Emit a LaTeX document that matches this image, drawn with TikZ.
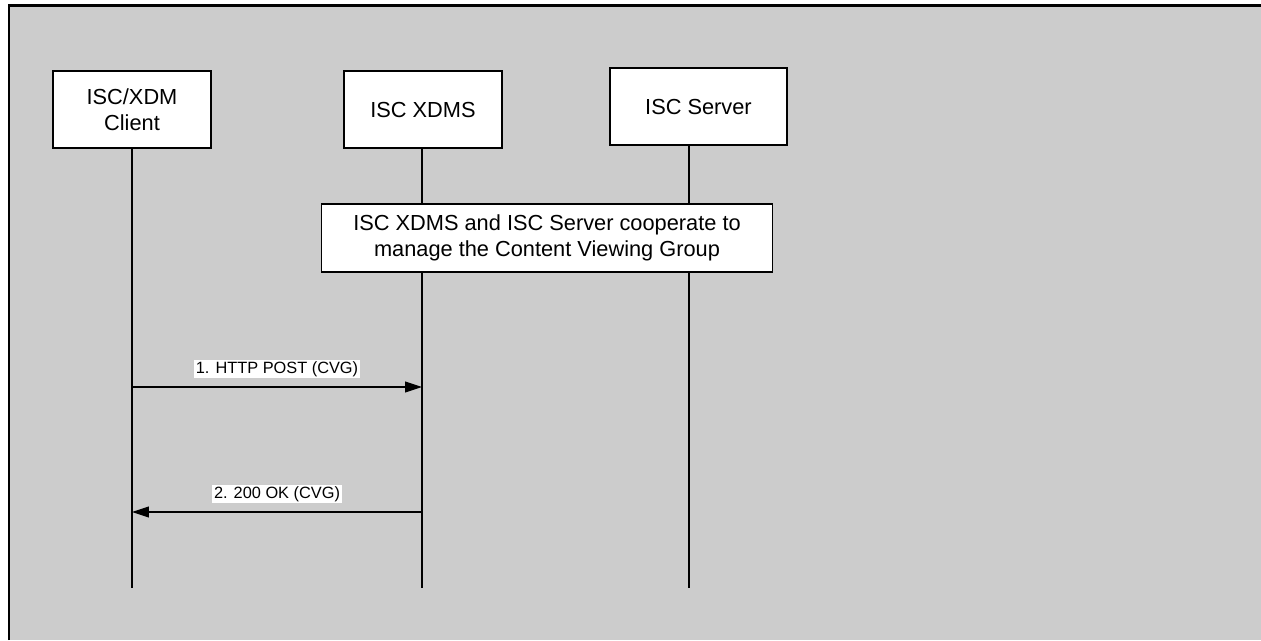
\documentclass[tikz,border=0pt]{standalone}
\usepackage{fontspec}
\setmainfont{Liberation Sans}
\usetikzlibrary{arrows.meta}

\tikzset{
  entity/.style={draw, fill=white, align=center, minimum height=1.54cm, font=\fontsize{12.4}{14.6}\selectfont},
  msg/.style={-{Triangle[length=0.34cm, width=0.22cm]}},
  msglabel/.style={fill=white, inner sep=1pt, font=\fontsize{9.3}{10}\selectfont}
}

\begin{document}
\begin{tikzpicture}[x=0.02cm, y=-0.02cm, line width=0.6pt]
	\useasboundingbox (0,0) rectangle (1261,640);
	\fill[black!20] (9,5.5) rectangle (1261,640);
	\draw[line width=1.2pt] (9,640) -- (9,5.5) -- (1261,5.5);
	\node[entity, minimum width=3.16cm] (client) at (132,109.5) {ISC/XDM\\Client};
	\node[entity, minimum width=3.16cm] (xdms) at (423,109.5) {ISC XDMS};
	\node[entity, minimum width=3.54cm] (server) at (698.5,106.5) {ISC Server};
	\coordinate (clientend) at (132,588);
	\coordinate (xdmsend) at (422,588);
	\coordinate (serverend) at (689,588);
	\draw (client.south) -- (clientend);
	\draw (xdms.south -| xdmsend) -- (xdmsend);
	\draw (server.south -| serverend) -- (serverend);
	\node[entity, minimum width=9.04cm, minimum height=1.36cm] (coop) at (547,238) {ISC XDMS and ISC Server cooperate to\\manage the Content Viewing Group};
	\coordinate (post) at (0,387);
	\coordinate (ok) at (0,512);
	\draw[msg] (clientend |- post) -- (xdmsend |- post) node[msglabel, midway, above=0.16cm] (postlabel) {1. HTTP POST (CVG)};
	\draw[msg] (xdmsend |- ok) -- (clientend |- ok) node[msglabel, midway, above=0.16cm] (oklabel) {2. 200 OK (CVG)};
\end{tikzpicture}
\end{document}
